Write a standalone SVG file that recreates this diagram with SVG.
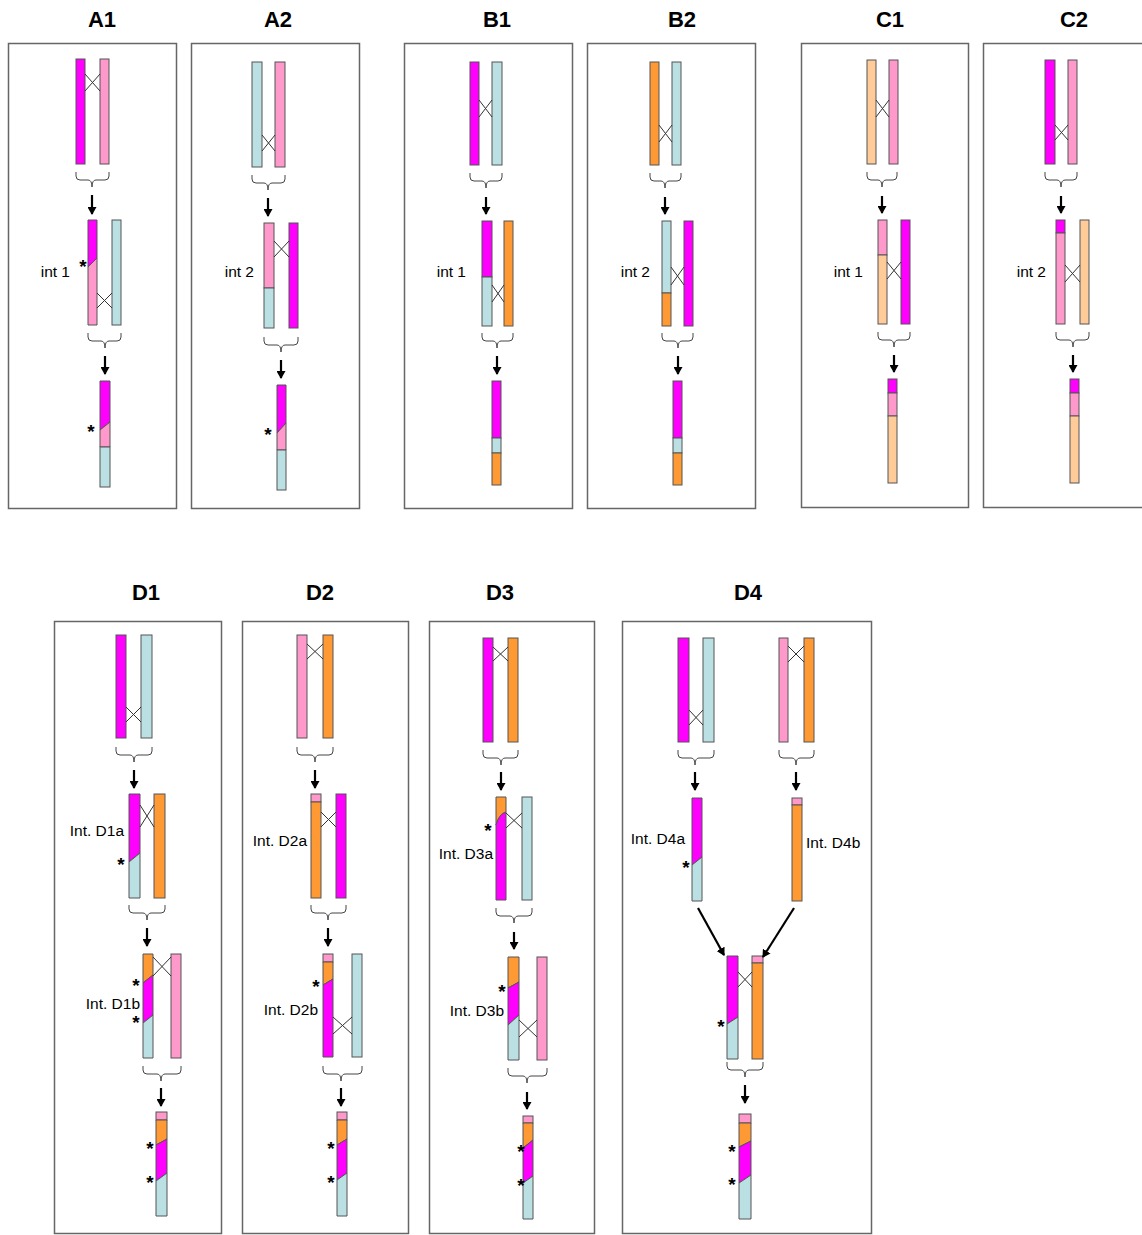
<svg xmlns="http://www.w3.org/2000/svg" width="1142" height="1235" viewBox="0 0 1142 1235">
<defs>
<style>
.box{fill:none;stroke:#666;stroke-width:1.5}
.seg{stroke:#555;stroke-width:1}
.m{fill:#ff00ff}.p{fill:#ff99cc}.b{fill:#bbe0e3}.o{fill:#ff9933}.c{fill:#ffcc99}
.x{stroke:#333;stroke-width:1;fill:none}
.br{fill:none;stroke:#444;stroke-width:1}
.ar{stroke:#000;stroke-width:2.2;fill:none;marker-end:url(#ah)}
.t{font-family:"Liberation Sans",Arial,sans-serif;font-weight:bold;font-size:22px;text-anchor:middle}
.l{font-family:"Liberation Sans",Arial,sans-serif;font-size:15.5px;text-anchor:end}
.ls{font-family:"Liberation Sans",Arial,sans-serif;font-size:15.5px;text-anchor:start}
.s{font-family:"Liberation Sans",Arial,sans-serif;font-size:19px;font-weight:bold;text-anchor:middle}
</style>
<marker id="ah" viewBox="0 0 8 9" refX="7" refY="4.5" markerWidth="8" markerHeight="9" markerUnits="userSpaceOnUse" orient="auto">
<path d="M0,0L8,4.5L0,9Z" fill="#000"/>
</marker>
</defs>
<rect width="1142" height="1235" fill="#fff"/>

<!-- Panel A1 -->
<g id="panel-A1">
<text class="t" x="102" y="27">A1</text>
<rect class="box" x="8.5" y="43.5" width="168" height="465"/>
<g id="A1-top-left"><rect class="m seg" x="76" y="59" width="9" height="105"/></g>
<g id="A1-top-right"><rect class="p seg" x="100" y="59" width="9" height="105"/></g>
<path class="x" d="M85,74L100,91M85,91L100,74"/>
<g id="A1-int1"><polygon class="m seg" points="88,220 97,220 97,258 88,267"/><polygon class="p seg" points="88,267 97,258 97,325 88,325"/><text class="l" x="70" y="277">int 1</text><text class="s" x="83" y="273">*</text></g>
<g id="A1-int-right"><rect class="b seg" x="112" y="220" width="9" height="105"/></g>
<path class="x" d="M97,293L112,308M97,308L112,293"/>
<g id="A1-final"><polygon class="m seg" points="100,381 110,381 110,422 100,430"/><polygon class="p seg" points="100,430 110,422 110,447 100,447"/><rect class="b seg" x="100" y="447" width="10" height="40"/><text class="s" x="91" y="438">*</text></g>
</g>

<!-- Panel A2 -->
<g id="panel-A2">
<text class="t" x="278" y="27">A2</text>
<rect class="box" x="191.5" y="43.5" width="168" height="465"/>
<g id="A2-top-left"><rect class="b seg" x="252" y="62" width="10" height="105"/></g>
<g id="A2-top-right"><rect class="p seg" x="275" y="62" width="10" height="105"/></g>
<path class="x" d="M262,135L275,151M262,151L275,135"/>
<g id="A2-int2"><rect class="p seg" x="264" y="223" width="10" height="65"/><rect class="b seg" x="264" y="288" width="10" height="40"/><text class="l" x="254" y="277">int 2</text></g>
<g id="A2-int-right"><rect class="m seg" x="289" y="223" width="9" height="105"/></g>
<path class="x" d="M274,241L289,257M274,257L289,241"/>
<g id="A2-final"><polygon class="m seg" points="277,385 286,385 286,423 277,433"/><polygon class="p seg" points="277,433 286,423 286,450 277,450"/><rect class="b seg" x="277" y="450" width="9" height="40"/><text class="s" x="268" y="441">*</text></g>
</g>

<!-- Panel B1 -->
<g id="panel-B1">
<text class="t" x="497" y="27">B1</text>
<rect class="box" x="404.5" y="43.5" width="168" height="465"/>
<g id="B1-top-left"><rect class="m seg" x="470" y="62" width="9" height="103"/></g>
<g id="B1-top-right"><rect class="b seg" x="492" y="62" width="10" height="103"/></g>
<path class="x" d="M479,100L492,117M479,117L492,100"/>
<g id="B1-int1"><rect class="m seg" x="482" y="221" width="10" height="56"/><rect class="b seg" x="482" y="277" width="10" height="49"/><text class="l" x="466" y="277">int 1</text></g>
<g id="B1-int-right"><rect class="o seg" x="504" y="221" width="9" height="105"/></g>
<path class="x" d="M492,285L504,302M492,302L504,285"/>
<g id="B1-final"><rect class="m seg" x="492" y="381" width="9" height="57"/><rect class="b seg" x="492" y="438" width="9" height="15"/><rect class="o seg" x="492" y="453" width="9" height="32"/></g>
</g>

<!-- Panel B2 -->
<g id="panel-B2">
<text class="t" x="682" y="27">B2</text>
<rect class="box" x="587.5" y="43.5" width="168" height="465"/>
<g id="B2-top-left"><rect class="o seg" x="650" y="62" width="9" height="103"/></g>
<g id="B2-top-right"><rect class="b seg" x="672" y="62" width="9" height="103"/></g>
<path class="x" d="M659,125L672,142M659,142L672,125"/>
<g id="B2-int2"><rect class="b seg" x="662" y="221" width="9" height="72"/><rect class="o seg" x="662" y="293" width="9" height="33"/><text class="l" x="650" y="277">int 2</text></g>
<g id="B2-int-right"><rect class="m seg" x="684" y="221" width="9" height="105"/></g>
<path class="x" d="M671,267L684,285M671,285L684,267"/>
<g id="B2-final"><rect class="m seg" x="673" y="381" width="9" height="57"/><rect class="b seg" x="673" y="438" width="9" height="15"/><rect class="o seg" x="673" y="453" width="9" height="32"/></g>
</g>

<!-- Panel C1 -->
<g id="panel-C1">
<text class="t" x="890" y="27">C1</text>
<rect class="box" x="801.5" y="43.5" width="167" height="464"/>
<g id="C1-top-left"><rect class="c seg" x="867" y="60" width="9" height="104"/></g>
<g id="C1-top-right"><rect class="p seg" x="889" y="60" width="9" height="104"/></g>
<path class="x" d="M876,100L889,117M876,117L889,100"/>
<g id="C1-int1"><rect class="p seg" x="878" y="220" width="9" height="35"/><rect class="c seg" x="878" y="255" width="9" height="69"/><text class="l" x="863" y="277">int 1</text></g>
<g id="C1-int-right"><rect class="m seg" x="901" y="220" width="9" height="104"/></g>
<path class="x" d="M887,262L901,279M887,279L901,262"/>
<g id="C1-final"><rect class="m seg" x="888" y="379" width="9" height="14"/><rect class="p seg" x="888" y="393" width="9" height="23"/><rect class="c seg" x="888" y="416" width="9" height="67"/></g>
</g>

<!-- Panel C2 -->
<g id="panel-C2">
<text class="t" x="1074" y="27">C2</text>
<rect class="box" x="983.5" y="43.5" width="170" height="464"/>
<g id="C2-top-left"><rect class="m seg" x="1045" y="60" width="10" height="104"/></g>
<g id="C2-top-right"><rect class="p seg" x="1068" y="60" width="9" height="104"/></g>
<path class="x" d="M1055,125L1068,140M1055,140L1068,125"/>
<g id="C2-int2"><rect class="m seg" x="1056" y="220" width="9" height="13"/><rect class="p seg" x="1056" y="233" width="9" height="91"/><text class="l" x="1046" y="277">int 2</text></g>
<g id="C2-int-right"><rect class="c seg" x="1080" y="220" width="9" height="104"/></g>
<path class="x" d="M1065,265L1080,282M1065,282L1080,265"/>
<g id="C2-final"><rect class="m seg" x="1070" y="379" width="9" height="14"/><rect class="p seg" x="1070" y="393" width="9" height="23"/><rect class="c seg" x="1070" y="416" width="9" height="67"/></g>
</g>

<!-- Panel D1 -->
<g id="panel-D1">
<text class="t" x="146" y="600">D1</text>
<rect class="box" x="54.5" y="621.5" width="167" height="612"/>
<g id="D1-top-left"><rect class="m seg" x="116" y="635" width="10" height="103"/></g>
<g id="D1-top-right"><rect class="b seg" x="141" y="635" width="11" height="103"/></g>
<path class="x" d="M126,707L141,722M126,722L141,707"/>
<g id="D1-int-D1a"><polygon class="m seg" points="129,794 140,794 140,853 129,862"/><polygon class="b seg" points="129,862 140,853 140,898 129,898"/><text class="l" x="124" y="836">Int. D1a</text><text class="s" x="121" y="871">*</text></g>
<g id="D1-int-D1a-right"><rect class="o seg" x="154" y="794" width="11" height="104"/></g>
<path class="x" d="M140,805L154,827M140,827L154,805"/>
<g id="D1-int-D1b"><polygon class="o seg" points="143,954 153,954 153,975 143,983"/><polygon class="m seg" points="143,983 153,975 153,1015 143,1023"/><polygon class="b seg" points="143,1023 153,1015 153,1058 143,1058"/><text class="l" x="140" y="1009">Int. D1b</text><text class="s" x="136" y="992">*</text><text class="s" x="136" y="1029">*</text></g>
<g id="D1-int-D1b-right"><rect class="p seg" x="171" y="954" width="10" height="104"/></g>
<path class="x" d="M153,957L171,976M153,976L171,957"/>
<g id="D1-final"><rect class="p seg" x="156" y="1112" width="11" height="8"/><polygon class="o seg" points="156,1120 167,1120 167,1139 156,1145"/><polygon class="m seg" points="156,1145 167,1139 167,1173 156,1181"/><polygon class="b seg" points="156,1181 167,1173 167,1216 156,1216"/><text class="s" x="150" y="1155">*</text><text class="s" x="150" y="1189">*</text></g>
</g>

<!-- Panel D2 -->
<g id="panel-D2">
<text class="t" x="320" y="600">D2</text>
<rect class="box" x="242.5" y="621.5" width="166" height="612"/>
<g id="D2-top-left"><rect class="p seg" x="297" y="635" width="10" height="103"/></g>
<g id="D2-top-right"><rect class="o seg" x="323" y="635" width="10" height="103"/></g>
<path class="x" d="M307,644L323,659M307,659L323,644"/>
<g id="D2-int-D2a"><rect class="p seg" x="311" y="794" width="10" height="8"/><rect class="o seg" x="311" y="802" width="10" height="96"/><text class="l" x="307" y="846">Int. D2a</text></g>
<g id="D2-int-D2a-right"><rect class="m seg" x="336" y="794" width="10" height="104"/></g>
<path class="x" d="M321,812L336,827M321,827L336,812"/>
<g id="D2-int-D2b"><rect class="p seg" x="323" y="954" width="10" height="8"/><polygon class="o seg" points="323,962 333,962 333,979 323,985"/><polygon class="m seg" points="323,985 333,979 333,1057 323,1057"/><text class="l" x="318" y="1015">Int. D2b</text><text class="s" x="316" y="993">*</text></g>
<g id="D2-int-D2b-right"><rect class="b seg" x="352" y="954" width="10" height="103"/></g>
<path class="x" d="M333,1017L352,1034M333,1034L352,1017"/>
<g id="D2-final"><rect class="p seg" x="337" y="1112" width="10" height="8"/><polygon class="o seg" points="337,1120 347,1120 347,1139 337,1145"/><polygon class="m seg" points="337,1145 347,1139 347,1173 337,1180"/><polygon class="b seg" points="337,1180 347,1173 347,1216 337,1216"/><text class="s" x="331" y="1155">*</text><text class="s" x="331" y="1189">*</text></g>
</g>

<!-- Panel D3 -->
<g id="panel-D3">
<text class="t" x="500" y="600">D3</text>
<rect class="box" x="429.5" y="621.5" width="165" height="612"/>
<g id="D3-top-left"><rect class="m seg" x="483" y="638" width="10" height="104"/></g>
<g id="D3-top-right"><rect class="o seg" x="508" y="638" width="10" height="104"/></g>
<path class="x" d="M493,647L508,661M493,661L508,647"/>
<g id="D3-int-D3a"><path class="o seg" d="M496,797L506,797L506,812Q499,814 496,825Z"/><path class="m seg" d="M496,825Q499,814 506,812L506,900L496,900Z"/><text class="l" x="493" y="859">Int. D3a</text><text class="s" x="488" y="837">*</text></g>
<g id="D3-int-D3a-right"><rect class="b seg" x="522" y="797" width="10" height="103"/></g>
<path class="x" d="M506,813L522,828M506,828L522,813"/>
<g id="D3-int-D3b"><polygon class="o seg" points="508,957 519,957 519,982 508,988"/><polygon class="m seg" points="508,988 519,982 519,1015 508,1025"/><polygon class="b seg" points="508,1025 519,1015 519,1060 508,1060"/><text class="l" x="504" y="1016">Int. D3b</text><text class="s" x="502" y="998">*</text></g>
<g id="D3-int-D3b-right"><rect class="p seg" x="537" y="957" width="10" height="103"/></g>
<path class="x" d="M519,1020L537,1037M519,1037L537,1020"/>
<g id="D3-final"><rect class="p seg" x="523" y="1116" width="10" height="7"/><polygon class="o seg" points="523,1123 533,1123 533,1140 523,1148"/><polygon class="m seg" points="523,1148 533,1140 533,1176 523,1183"/><polygon class="b seg" points="523,1183 533,1176 533,1219 523,1219"/><text class="s" x="521" y="1158">*</text><text class="s" x="521" y="1192">*</text></g>
</g>

<!-- Panel D4 -->
<g id="panel-D4">
<text class="t" x="748" y="600">D4</text>
<rect class="box" x="622.5" y="621.5" width="249" height="612"/>
<g id="D4-top-a-left"><rect class="m seg" x="678" y="638" width="11" height="104"/></g>
<g id="D4-top-a-right"><rect class="b seg" x="703" y="638" width="11" height="104"/></g>
<path class="x" d="M689,710L703,725M689,725L703,710"/>
<g id="D4-top-b-left"><rect class="p seg" x="779" y="638" width="9" height="104"/></g>
<g id="D4-top-b-right"><rect class="o seg" x="804" y="638" width="10" height="104"/></g>
<path class="x" d="M788,646L804,662M788,662L804,646"/>
<g id="D4-int-D4a"><polygon class="m seg" points="692,798 702,798 702,857 692,865"/><polygon class="b seg" points="692,865 702,857 702,901 692,901"/><text class="l" x="685" y="844">Int. D4a</text><text class="s" x="686" y="874">*</text></g>
<g id="D4-int-D4b"><rect class="p seg" x="792" y="798" width="10" height="7"/><rect class="o seg" x="792" y="805" width="10" height="96"/><text class="ls" x="806" y="848">Int. D4b</text></g>
<g id="D4-pair-left"><polygon class="m seg" points="727,956 738,956 738,1017 727,1024"/><polygon class="b seg" points="727,1024 738,1017 738,1059 727,1059"/><text class="s" x="721" y="1033">*</text></g>
<g id="D4-pair-right"><rect class="p seg" x="752" y="956" width="11" height="7"/><rect class="o seg" x="752" y="963" width="11" height="96"/></g>
<path class="x" d="M738,972L752,987M738,987L752,972"/>
<g id="D4-final"><rect class="p seg" x="739" y="1114" width="12" height="9"/><polygon class="o seg" points="739,1123 751,1123 751,1141 739,1147"/><polygon class="m seg" points="739,1147 751,1141 751,1175 739,1183"/><polygon class="b seg" points="739,1183 751,1175 751,1219 739,1219"/><text class="s" x="732" y="1158">*</text><text class="s" x="732" y="1191">*</text></g>
</g>

<!-- Connectors: braces and arrows -->
<g id="connectors">
<g id="braces" class="br">
<path d="M76,172L76,176Q76,180 80,180L88,180Q92,180 92,187Q92,180 96,180L105,180Q109,180 109,176L109,172"/>
<path d="M88,333L88,337Q88,341 92,341L101,341Q105,341 105,348Q105,341 109,341L117,341Q121,341 121,337L121,333"/>
<path d="M252,175L252,179Q252,183 256,183L264,183Q268,183 268,190Q268,183 272,183L281,183Q285,183 285,179L285,175"/>
<path d="M264,337L264,341Q264,345 268,345L277,345Q281,345 281,352Q281,345 285,345L294,345Q298,345 298,341L298,337"/>
<path d="M470,173L470,177Q470,181 474,181L482,181Q486,181 486,188Q486,181 490,181L498,181Q502,181 502,177L502,173"/>
<path d="M482,333L482,337Q482,341 486,341L493,341Q497,341 497,348Q497,341 501,341L509,341Q513,341 513,337L513,333"/>
<path d="M650,173L650,177Q650,181 654,181L661,181Q665,181 665,188Q665,181 669,181L677,181Q681,181 681,177L681,173"/>
<path d="M662,333L662,337Q662,341 666,341L674,341Q678,341 678,348Q678,341 682,341L689,341Q693,341 693,337L693,333"/>
<path d="M867,172L867,176Q867,180 871,180L878,180Q882,180 882,187Q882,180 886,180L893,180Q897,180 897,176L897,172"/>
<path d="M878,332L878,336Q878,340 882,340L890,340Q894,340 894,347Q894,340 898,340L906,340Q910,340 910,336L910,332"/>
<path d="M1045,172L1045,176Q1045,180 1049,180L1057,180Q1061,180 1061,187Q1061,180 1065,180L1073,180Q1077,180 1077,176L1077,172"/>
<path d="M1056,332L1056,336Q1056,340 1060,340L1069,340Q1073,340 1073,347Q1073,340 1077,340L1085,340Q1089,340 1089,336L1089,332"/>
<path d="M116,747L116,751Q116,755 120,755L130,755Q134,755 134,762Q134,755 138,755L148,755Q152,755 152,751L152,747"/>
<path d="M129,905L129,909Q129,913 133,913L143,913Q147,913 147,920Q147,913 151,913L161,913Q165,913 165,909L165,905"/>
<path d="M143,1066L143,1070Q143,1074 147,1074L157,1074Q161,1074 161,1081Q161,1074 165,1074L177,1074Q181,1074 181,1070L181,1066"/>
<path d="M297,747L297,751Q297,755 301,755L311,755Q315,755 315,762Q315,755 319,755L329,755Q333,755 333,751L333,747"/>
<path d="M311,905L311,909Q311,913 315,913L324,913Q328,913 328,920Q328,913 332,913L342,913Q346,913 346,909L346,905"/>
<path d="M323,1066L323,1070Q323,1074 327,1074L337,1074Q341,1074 341,1081Q341,1074 345,1074L358,1074Q362,1074 362,1070L362,1066"/>
<path d="M483,750L483,754Q483,758 487,758L497,758Q501,758 501,765Q501,758 505,758L514,758Q518,758 518,754L518,750"/>
<path d="M496,908L496,912Q496,916 500,916L510,916Q514,916 514,923Q514,916 518,916L528,916Q532,916 532,912L532,908"/>
<path d="M508,1068L508,1072Q508,1076 512,1076L523,1076Q527,1076 527,1083Q527,1076 531,1076L543,1076Q547,1076 547,1072L547,1068"/>
<path d="M678,750L678,754Q678,758 682,758L691,758Q695,758 695,765Q695,758 699,758L710,758Q714,758 714,754L714,750"/>
<path d="M779,750L779,754Q779,758 783,758L792,758Q796,758 796,765Q796,758 800,758L810,758Q814,758 814,754L814,750"/>
<path d="M727,1062L727,1066Q727,1070 731,1070L741,1070Q745,1070 745,1077Q745,1070 749,1070L759,1070Q763,1070 763,1066L763,1062"/>
</g>
<g id="arrows">
<path class="ar" d="M92,195L92,214"/>
<path class="ar" d="M105,356L105,374"/>
<path class="ar" d="M268,198L268,216"/>
<path class="ar" d="M281,360L281,378"/>
<path class="ar" d="M486,197L486,214"/>
<path class="ar" d="M497,356L497,374"/>
<path class="ar" d="M665,197L665,214"/>
<path class="ar" d="M678,356L678,374"/>
<path class="ar" d="M882,196L882,213"/>
<path class="ar" d="M894,355L894,372"/>
<path class="ar" d="M1061,196L1061,213"/>
<path class="ar" d="M1073,355L1073,372"/>
<path class="ar" d="M134,770L134,788"/>
<path class="ar" d="M147,928L147,946"/>
<path class="ar" d="M161,1088L161,1106"/>
<path class="ar" d="M315,770L315,788"/>
<path class="ar" d="M328,928L328,946"/>
<path class="ar" d="M341,1088L341,1106"/>
<path class="ar" d="M501,772L501,790"/>
<path class="ar" d="M514,932L514,949"/>
<path class="ar" d="M527,1092L527,1109"/>
<path class="ar" d="M695,772L695,790"/>
<path class="ar" d="M796,772L796,790"/>
<path class="ar" d="M745,1085L745,1103"/>
<path class="ar" d="M698,908L724,955"/>
<path class="ar" d="M794,908L763,957"/>
</g>
</g>
</svg>
